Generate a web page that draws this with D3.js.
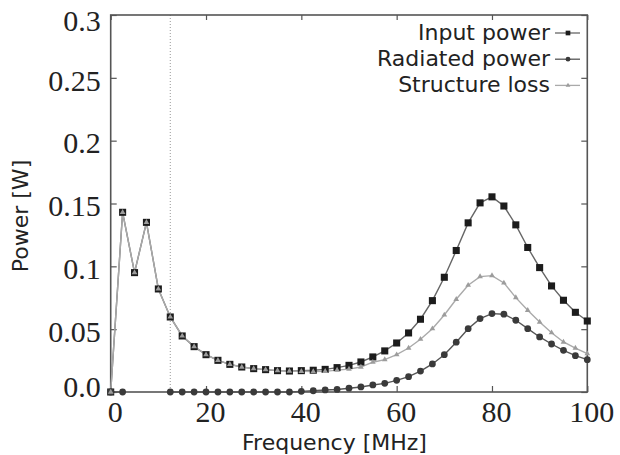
<!DOCTYPE html>
<html>
<head>
<meta charset="utf-8">
<script src="https://cdn.jsdelivr.net/npm/d3@7"></script>
<style>
body{margin:0;background:#fff;}
svg{display:block;}
</style>
</head>
<body>
<svg id="chart" width="620" height="455"></svg>
<script>

var freq = [0, 2.5, 5, 7.5, 10, 12.5, 15, 17.5, 20, 22.5, 25, 27.5, 30, 32.5, 35, 37.5, 40, 42.5, 45, 47.5, 50,
	52.5, 55, 57.5, 60, 62.5, 65, 67.5, 70, 72.5, 75, 77.5, 80, 82.5, 85, 87.5, 90, 92.5, 95, 97.5, 100];

var inputPower = [0, 0.143, 0.095, 0.135, 0.082, 0.0597, 0.0446, 0.0361, 0.0297, 0.0252, 0.022, 0.0199, 0.0186,
	0.0178, 0.017, 0.0167, 0.017, 0.0173, 0.018, 0.0194, 0.0212, 0.0239, 0.0279, 0.0327, 0.039, 0.047, 0.0579,
	0.0727, 0.0913, 0.1126, 0.1346, 0.1505, 0.1553, 0.148, 0.133, 0.115, 0.099, 0.0844, 0.073, 0.0634, 0.0565];

var radiatedPower = [0, 0, null, null, null, 0, 0, 0, 0, 0, 0, 0, 0, 0, 0, 0, 0.0005, 0.001, 0.0016, 0.002, 0.003,
	0.004, 0.0056, 0.0069, 0.0093, 0.0122, 0.0167, 0.0223, 0.0297, 0.0396, 0.0504, 0.0584, 0.0624, 0.0619, 0.0571,
	0.0504, 0.0438, 0.0382, 0.0332, 0.0289, 0.0257];

var structureLoss = [0, 0.143, 0.095, 0.135, 0.082, 0.0597, 0.0446, 0.0361, 0.0297, 0.0252, 0.022, 0.0199, 0.0186,
	0.0178, 0.017, 0.0167, 0.0165, 0.0163, 0.0164, 0.0174, 0.0182, 0.0199, 0.0237, 0.0258, 0.0297, 0.035, 0.042,
	0.0504, 0.0613, 0.0738, 0.085, 0.0918, 0.0926, 0.0868, 0.0751, 0.065, 0.0557, 0.0472, 0.0398, 0.035, 0.0305];

var xTicks = [0, 20, 40, 60, 80, 100];
var yTicks = [0, 0.05, 0.1, 0.15, 0.2, 0.25, 0.3];
var yTickLabels = ["0.0", "0.05", "0.1", "0.15", "0.2", "0.25", "0.3"];
var cutoff = 12.5;

var seriesNames = ["Input power", "Radiated power", "Structure loss"];

var svg = d3.select("#chart");
var plotLeft = 110.7, plotRight = 587.3, plotTop = 15, plotBottom = 392;

var x = d3.scaleLinear().domain([0, 100]).range([plotLeft, plotRight]);
var y = d3.scaleLinear().domain([0, 0.3]).range([plotBottom, plotTop]);

var serif = "'Liberation Serif','Times New Roman',serif";
var sans = "'DejaVu Sans',Verdana,sans-serif";

// ticks (inward, mirrored on all sides)
var xAxis = svg.append("g").attr("transform", "translate(0," + plotBottom + ")")
	.call(d3.axisBottom(x).tickValues(xTicks).tickSizeInner(-6).tickSizeOuter(0).tickPadding(9));
var xAxisTop = svg.append("g").attr("transform", "translate(0," + plotTop + ")")
	.call(d3.axisTop(x).tickValues(xTicks).tickSizeInner(-5).tickSizeOuter(0).tickFormat(""));
var yAxis = svg.append("g").attr("transform", "translate(" + plotLeft + ",0)")
	.call(d3.axisLeft(y).tickValues(yTicks).tickSizeInner(-6).tickSizeOuter(0).tickPadding(10)
		.tickFormat(function(d, i){ return yTickLabels[i]; }));
var yAxisRight = svg.append("g").attr("transform", "translate(" + plotRight + ",0)")
	.call(d3.axisRight(y).tickValues(yTicks).tickSizeInner(-6).tickSizeOuter(0).tickFormat(""));

[xAxis, xAxisTop, yAxis, yAxisRight].forEach(function(a){
	a.select(".domain").remove();
	a.selectAll(".tick line").attr("stroke", "#555").attr("stroke-width", 1.2);
	a.selectAll("text").attr("font-family", serif).attr("font-size", 30).attr("fill", "#222");
});
xAxis.selectAll("text").attr("dx", 4);
yAxis.selectAll("text").attr("dy", function(d){
	if(d === 0) return "0.16em";
	if(d === 0.3) return "0.53em";
	return "0.41em";
});

// dotted marker line
svg.append("line")
	.attr("x1", x(cutoff)).attr("x2", x(cutoff))
	.attr("y1", plotTop).attr("y2", plotBottom)
	.attr("stroke", "#999").attr("stroke-width", 1).attr("stroke-dasharray", "1,2");

// frame
svg.append("rect")
	.attr("x", plotLeft).attr("y", plotTop)
	.attr("width", plotRight - plotLeft).attr("height", plotBottom - plotTop)
	.attr("fill", "none").attr("stroke", "#555").attr("stroke-width", 1.6);

function makeLine(vals){
	return d3.line()
		.defined(function(d){ return d !== null; })
		.x(function(d, i){ return x(freq[i]); })
		.y(function(d){ return y(d); })(vals);
}

svg.append("path").attr("d", makeLine(inputPower)).attr("fill", "none").attr("stroke", "#666").attr("stroke-width", 1.4);
svg.append("path").attr("d", makeLine(structureLoss)).attr("fill", "none").attr("stroke", "#aaa").attr("stroke-width", 1.4);
svg.append("path").attr("d", makeLine(radiatedPower)).attr("fill", "none").attr("stroke", "#555").attr("stroke-width", 1.4);

var square = d3.symbol().type(d3.symbolSquare).size(50);
var circle = d3.symbol().type(d3.symbolCircle).size(36);
var triangle = d3.symbol().type(d3.symbolTriangle).size(14);

svg.append("g").selectAll("path").data(inputPower).enter().append("path")
	.attr("transform", function(d, i){ return "translate(" + x(freq[i]) + "," + y(d) + ")"; })
	.attr("d", square).attr("fill", "#1c1c1c");

svg.append("g").selectAll("path")
	.data(freq.map(function(f, i){ return i; }).filter(function(i){ return radiatedPower[i] !== null; }))
	.enter().append("path")
	.attr("transform", function(i){ return "translate(" + x(freq[i]) + "," + y(radiatedPower[i]) + ")"; })
	.attr("d", circle).attr("fill", "#3a3a3a");

svg.append("g").selectAll("path").data(structureLoss).enter().append("path")
	.attr("transform", function(d, i){ return "translate(" + x(freq[i]) + "," + y(d) + ")"; })
	.attr("d", triangle).attr("fill", "#9c9c9c");

// legend
var legendMarks = [d3.symbol().type(d3.symbolSquare).size(22), d3.symbol().type(d3.symbolCircle).size(18), d3.symbol().type(d3.symbolTriangle).size(10)];
var legendColors = ["#1c1c1c", "#3a3a3a", "#9c9c9c"];
var legendLines = ["#666", "#555", "#aaa"];
var legend = svg.append("g").selectAll("g").data(seriesNames).enter().append("g")
	.attr("transform", function(d, i){ return "translate(0," + (40 + i * 26.2) + ")"; });
legend.append("text").attr("x", 550).attr("y", 0).attr("text-anchor", "end")
	.attr("font-family", sans).attr("font-size", 22).attr("fill", "#222")
	.text(function(d){ return d; });
legend.append("line").attr("x1", 555).attr("x2", 580).attr("y1", -7).attr("y2", -7)
	.attr("stroke", function(d, i){ return legendLines[i]; }).attr("stroke-width", 1.3);
legend.append("path").attr("transform", "translate(568,-7)")
	.attr("d", function(d, i){ return legendMarks[i](); })
	.attr("fill", function(d, i){ return legendColors[i]; });

// axis titles
svg.append("text").attr("transform", "translate(28,216) rotate(-90)").attr("text-anchor", "middle")
	.attr("font-family", sans).attr("font-size", 22).attr("fill", "#222").text("Power [W]");
svg.append("text").attr("x", 334.5).attr("y", 450).attr("text-anchor", "middle")
	.attr("font-family", sans).attr("font-size", 22).attr("fill", "#222").text("Frequency [MHz]");

</script>
</body>
</html>
